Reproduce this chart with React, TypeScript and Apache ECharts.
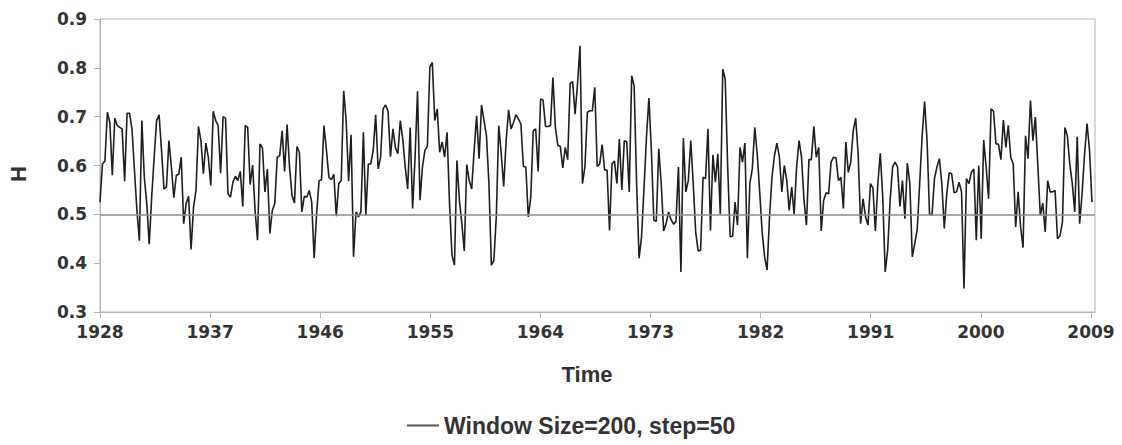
import { useEffect, useRef } from "react";
import * as echarts from "echarts";

// Hurst exponent estimated over a sliding window (200 points wide, moved 50 at a time)
const SERIES_NAME = "Window Size=200, step=50";
const START_YEAR = 1928;
const STEP_YEARS = 0.2012; // one window step, in years
const X_TICKS = [1928, 1937, 1946, 1955, 1964, 1973, 1982, 1991, 2000, 2009];
const X_MIN = 1928;
const X_MAX = 2009.33;
const Y_MIN = 0.3;
const Y_MAX = 0.9;
const Y_STEP = 0.1;
const H_REFERENCE = 0.5;

const hPart1 = [
  0.525, 0.603, 0.609, 0.709, 0.688, 0.58, 0.697, 0.682, 0.678, 0.675, 0.568, 0.707, 0.707, 0.675, 0.59, 0.508,
  0.446, 0.692, 0.576, 0.522, 0.439, 0.535, 0.617, 0.692, 0.704, 0.631, 0.552, 0.556, 0.651, 0.597, 0.534, 0.58,
  0.582, 0.617, 0.481, 0.522, 0.537, 0.428, 0.515, 0.549, 0.68, 0.651, 0.583, 0.646, 0.617, 0.559, 0.711, 0.692,
  0.682,
];
const hPart2 = [
  0.584, 0.7, 0.697, 0.542, 0.535, 0.566, 0.578, 0.569, 0.588, 0.516, 0.682, 0.678, 0.561, 0.601, 0.508, 0.447,
  0.644, 0.636, 0.546, 0.593, 0.461, 0.508, 0.522, 0.617, 0.62, 0.671, 0.588, 0.684, 0.597, 0.539, 0.523, 0.639,
  0.627, 0.505, 0.537, 0.535, 0.549, 0.525, 0.41, 0.501, 0.569, 0.571, 0.682, 0.631, 0.576, 0.571, 0.582, 0.496,
  0.563, 0.569,
];
const hPart3 = [
  0.753, 0.692, 0.568, 0.663, 0.413, 0.505, 0.495, 0.505, 0.668, 0.498, 0.603, 0.603, 0.631, 0.704, 0.593, 0.617,
  0.716, 0.724, 0.712, 0.618, 0.675, 0.637, 0.624, 0.692, 0.654, 0.597, 0.552, 0.678, 0.512, 0.617, 0.752, 0.529,
  0.597, 0.631, 0.639, 0.801, 0.811, 0.692, 0.716, 0.627, 0.648, 0.617, 0.668, 0.522, 0.416, 0.396, 0.61, 0.529,
  0.481,
];
const hPart4 = [
  0.425, 0.602, 0.569, 0.552, 0.631, 0.702, 0.614, 0.724, 0.692, 0.661, 0.563, 0.396, 0.405, 0.495, 0.682, 0.624,
  0.557, 0.651, 0.714, 0.675, 0.688, 0.704, 0.695, 0.685, 0.598, 0.597, 0.495, 0.535, 0.671, 0.675, 0.588, 0.736,
  0.734, 0.68, 0.68, 0.682, 0.78, 0.678, 0.641, 0.639, 0.595, 0.637, 0.612, 0.768, 0.772, 0.705, 0.767, 0.845,
  0.563, 0.597, 0.709, 0.712,
];
const hPart5 = [
  0.712, 0.76, 0.598, 0.603, 0.643, 0.591, 0.59, 0.467, 0.603, 0.609, 0.563, 0.654, 0.55, 0.651, 0.648, 0.546,
  0.784, 0.763, 0.563, 0.41, 0.454, 0.552, 0.658, 0.738, 0.631, 0.488, 0.486, 0.634, 0.563, 0.466, 0.481, 0.505,
  0.489, 0.48, 0.485, 0.597, 0.382, 0.656, 0.546, 0.569, 0.651, 0.563, 0.464, 0.425, 0.427, 0.576, 0.573, 0.675,
  0.467, 0.622, 0.566,
];
const hPart6 = [
  0.624, 0.501, 0.797, 0.777, 0.597, 0.454, 0.455, 0.525, 0.478, 0.637, 0.607, 0.646, 0.41, 0.563, 0.593, 0.678,
  0.624, 0.546, 0.464, 0.413, 0.386, 0.495, 0.576, 0.62, 0.646, 0.617, 0.546, 0.6, 0.569, 0.508, 0.556, 0.5,
  0.597, 0.651, 0.617, 0.529, 0.478, 0.612, 0.612, 0.68, 0.617, 0.637, 0.466, 0.529, 0.544, 0.542, 0.607, 0.617,
  0.616, 0.569,
];
const hPart7 = [
  0.576, 0.512, 0.648, 0.586, 0.607, 0.671, 0.697, 0.624, 0.481, 0.532, 0.495, 0.478, 0.563, 0.554, 0.466, 0.563,
  0.625, 0.535, 0.382, 0.427, 0.529, 0.597, 0.607, 0.597, 0.516, 0.569, 0.491, 0.605, 0.563, 0.413, 0.44, 0.469,
  0.563, 0.661, 0.731, 0.651, 0.501, 0.498, 0.573, 0.597, 0.614, 0.563, 0.471, 0.542, 0.585, 0.583, 0.544, 0.546,
  0.566, 0.546,
];
const hPart8 = [
  0.348, 0.573, 0.563, 0.586, 0.593, 0.447, 0.6, 0.45, 0.652, 0.597, 0.532, 0.716, 0.711, 0.644, 0.644, 0.612,
  0.693, 0.637, 0.682, 0.617, 0.603, 0.474, 0.546, 0.474, 0.432, 0.661, 0.614, 0.733, 0.651, 0.699, 0.6, 0.498,
  0.523, 0.464, 0.569, 0.546, 0.546, 0.549, 0.45, 0.456, 0.484, 0.678, 0.661, 0.602, 0.563, 0.505, 0.659, 0.481,
  0.544, 0.624, 0.686, 0.631, 0.525,
];

const hValues = [...hPart1, ...hPart2, ...hPart3, ...hPart4, ...hPart5, ...hPart6, ...hPart7, ...hPart8];

const TICK_FONT = "'DejaVu Sans', sans-serif";
const TITLE_FONT = "'Liberation Sans', Arial, sans-serif";
const AXIS_GRAY = "#b3b3b3";
const TEXT_COLOR = "#333333";

export default function App() {
  const ref = useRef<HTMLDivElement>(null);

  useEffect(() => {
    if (!ref.current) return;
    const chart = echarts.init(ref.current, null, { renderer: "svg" });
    const points = hValues.map((h, i) => [START_YEAR + i * STEP_YEARS, h]);

    chart.setOption({
      animation: false,
      backgroundColor: "#ffffff",
      grid: {
        left: 100,
        right: 27,
        top: 19,
        bottom: 133,
        show: true,
        borderColor: AXIS_GRAY,
        borderWidth: 1,
        containLabel: false,
      },
      xAxis: {
        type: "value",
        min: X_MIN,
        max: X_MAX,
        splitLine: { show: false },
        axisLine: { show: true, lineStyle: { color: AXIS_GRAY, width: 1 } },
        axisTick: { show: true, length: 6, lineStyle: { color: AXIS_GRAY }, customValues: X_TICKS },
        axisLabel: {
          customValues: X_TICKS,
          margin: 11,
          color: TEXT_COLOR,
          fontFamily: TICK_FONT,
          fontWeight: "bold",
          fontSize: 17,
          formatter: (v: number) => String(Math.round(v)),
        },
      },
      yAxis: {
        type: "value",
        min: Y_MIN,
        max: Y_MAX,
        interval: Y_STEP,
        splitLine: { show: false },
        axisLine: { show: true, lineStyle: { color: AXIS_GRAY, width: 1 } },
        axisTick: { show: true, length: 6, lineStyle: { color: AXIS_GRAY } },
        axisLabel: {
          margin: 13,
          color: TEXT_COLOR,
          fontFamily: TICK_FONT,
          fontWeight: "bold",
          fontSize: 17,
          formatter: (v: number) => v.toFixed(1),
        },
      },
      legend: {
        data: [SERIES_NAME],
        left: 407,
        top: 414,
        padding: 0,
        icon: "rect",
        itemWidth: 32,
        itemHeight: 2,
        itemStyle: { color: "#555555" },
        textStyle: {
          color: TEXT_COLOR,
          fontFamily: TITLE_FONT,
          fontWeight: "bold",
          fontSize: 23,
        },
      },
      graphic: [
        {
          type: "text",
          x: 18,
          y: 174,
          rotation: Math.PI / 2,
          style: {
            text: "H",
            fill: TEXT_COLOR,
            font: `bold 22px ${TITLE_FONT}`,
            textAlign: "center",
            textVerticalAlign: "middle",
          },
        },
        {
          type: "text",
          x: 587,
          y: 374,
          style: {
            text: "Time",
            fill: TEXT_COLOR,
            font: `bold 22px ${TITLE_FONT}`,
            textAlign: "center",
            textVerticalAlign: "middle",
          },
        },
      ],
      series: [
        {
          name: SERIES_NAME,
          type: "line",
          data: points,
          symbol: "none",
          lineStyle: { color: "#1e1e1e", width: 1.6 },
          itemStyle: { color: "#1e1e1e" },
          markLine: {
            silent: true,
            symbol: "none",
            label: { show: false },
            lineStyle: { color: "#8c8c8c", width: 1.5, type: "solid" },
            data: [{ yAxis: H_REFERENCE }],
          },
        },
      ],
    });

    return () => chart.dispose();
  }, []);

  return (
    <div
      ref={ref}
      style={{ position: "absolute", left: 0, top: 0, width: 1122, height: 445 }}
    />
  );
}
